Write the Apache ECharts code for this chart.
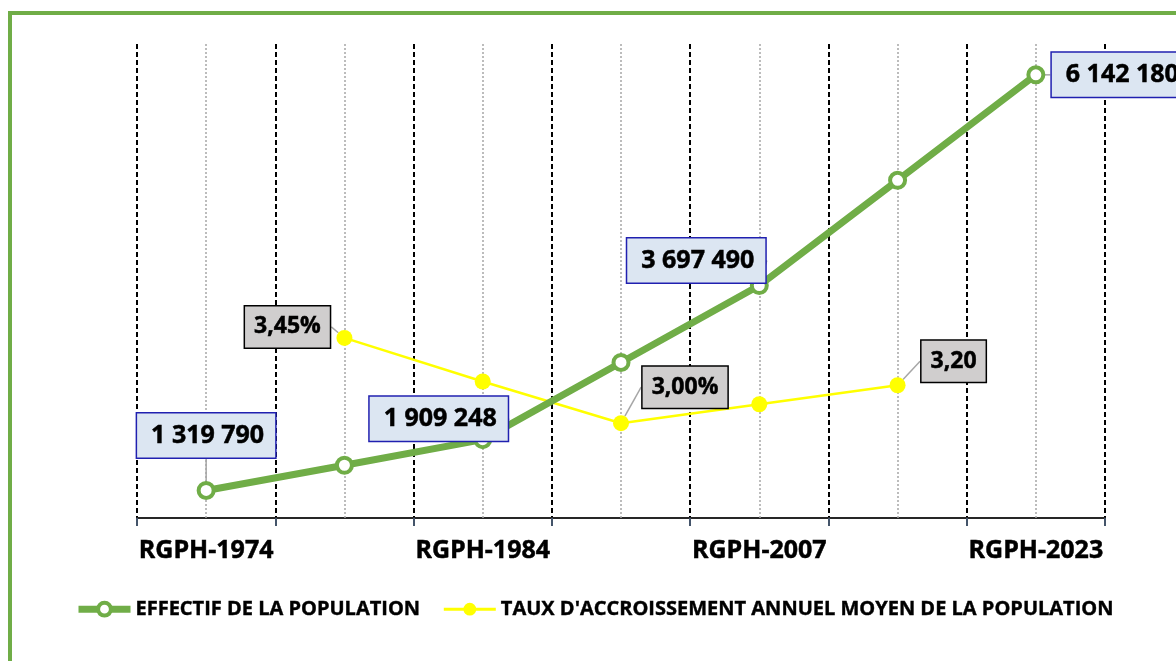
<!DOCTYPE html>
<html>
<head>
<meta charset="utf-8">
<script src="https://cdn.jsdelivr.net/npm/echarts@6/dist/echarts.min.js"></script>
<style>
    html, body { margin: 0; padding: 0; background: #fff; overflow: hidden; }
    #main { width: 1176px; height: 661px; }
    #frame { position: absolute; left: 8px; top: 11px; width: 1400px; height: 900px; border: 4px solid #70ad47; pointer-events: none; }
</style>
</head>
<body>
<div id="main"></div>
<div id="frame"></div>
<script>
// donnees
var categories = ['RGPH-1974', '', 'RGPH-1984', '', 'RGPH-2007', '', 'RGPH-2023'];
var population = [1319790, 1612000, 1909248, 2805000, 3697490, 4918000, 6142180];
var populationLabels = ['1 319 790', '', '1 909 248', '', '3 697 490', '', '6 142 180'];
var growthRate = [null, 3.45, 3.22, 3.00, 3.10, 3.20, null];
var growthLabels = ['', '3,45%', '', '3,00%', '', '3,20', ''];

window.onload = () => {
    var chartDom = document.getElementById('main');
    var myChart = echarts.init(chartDom);
    var font = 'Open Sans';
    var popName = 'EFFECTIF DE LA POPULATION';
    var rateName = "TAUX D'ACCROISSEMENT ANNUEL MOYEN DE LA POPULATION";

    // decalage des etiquettes par rapport aux points
    var popShift = [[0, -55], [0, 0], [-44, -21], [0, 0], [-63, -25], [0, 0], [85, 0]];
    var rateShift = [[0, 0], [-57, -11], [0, 0], [64, -36], [0, 0], [56, -24], [0, 0]];

    var popData = population.map(function (v, i) {
        return { value: v, label: { show: populationLabels[i] !== '' } };
    });
    var rateData = growthRate.map(function (v, i) {
        if (v === null) return null;
        return { value: v, label: { show: growthLabels[i] !== '' } };
    });

    var option = {
        animation: false,
        grid: {
            left: 137,
            right: 71,
            top: 44,
            bottom: 143,
            containLabel: false
        },
        legend: {
            data: [{
                name: popName,
                lineStyle: { width: 7 },
                itemStyle: { borderWidth: 4 }
            }, {
                name: rateName,
                lineStyle: { width: 3 }
            }],
            left: 70,
            top: 594,
            itemWidth: 52,
            itemHeight: 16,
            itemGap: 22,
            textStyle: {
                fontFamily: font,
                fontSize: 20,
                fontWeight: 'bold',
                color: '#000',
                textBorderColor: '#000',
                textBorderWidth: 0.4
            }
        },
        xAxis: {
            type: 'category',
            data: categories,
            boundaryGap: true,
            axisLine: {
                lineStyle: { color: '#262626', width: 2 }
            },
            axisTick: {
                show: true,
                interval: 0,
                length: 8,
                lineStyle: { color: '#44546a', width: 2 }
            },
            axisLabel: {
                interval: 0,
                margin: 20,
                fontFamily: font,
                fontSize: 25,
                fontWeight: 'bold',
                color: '#000',
                textBorderColor: '#000',
                textBorderWidth: 0.5
            },
            splitLine: {
                show: true,
                interval: 0,
                lineStyle: { color: '#000', type: [5, 3], width: 2 }
            }
        },
        yAxis: [{
            type: 'value',
            min: 1000000,
            max: 6500000,
            show: false
        }, {
            type: 'value',
            min: 2.5,
            max: 5,
            show: false
        }],
        series: [{
                name: 'guides',
                type: 'line',
                data: [],
                silent: true,
                z: 1,
                markLine: {
                    silent: true,
                    z: 1,
                    symbol: ['none', 'none'],
                    label: { show: false },
                    lineStyle: { color: '#a6a6a6', type: [2, 2], width: 1.5 },
                    data: categories.map(function (c, i) { return { xAxis: i }; })
                }
            },
            {
                name: popName,
                type: 'line',
                yAxisIndex: 0,
                z: 4,
                data: popData,
                symbol: 'circle',
                symbolSize: 15,
                showAllSymbol: true,
                lineStyle: { color: '#70ad47', width: 7 },
                itemStyle: { color: '#fff', borderColor: '#70ad47', borderWidth: 4 },
                label: {
                    show: true,
                    position: 'inside',
                    formatter: function (p) { return populationLabels[p.dataIndex]; },
                    fontFamily: font,
                    fontSize: 25,
                    fontWeight: 'bold',
                    lineHeight: 26,
                    color: '#000',
                    textBorderColor: '#000',
                    textBorderWidth: 0.5,
                    backgroundColor: '#dce6f2',
                    borderColor: '#2020b0',
                    borderWidth: 1.5,
                    padding: [9, 11, 9, 14]
                },
                labelLine: {
                    show: true,
                    lineStyle: { color: '#a6a6a6', width: 1.5 }
                },
                labelLayout: function (p) {
                    var s = popShift[p.dataIndex];
                    return { dx: s[0], dy: s[1] };
                }
            },
            {
                name: rateName,
                type: 'line',
                yAxisIndex: 1,
                z: 3,
                data: rateData,
                symbol: 'circle',
                symbolSize: 16,
                showAllSymbol: true,
                lineStyle: { color: '#ffff00', width: 2.5 },
                itemStyle: { color: '#ffff00' },
                label: {
                    show: true,
                    position: 'inside',
                    formatter: function (p) { return growthLabels[p.dataIndex]; },
                    fontFamily: font,
                    fontSize: 23,
                    fontWeight: 'bold',
                    lineHeight: 23,
                    color: '#000',
                    textBorderColor: '#000',
                    textBorderWidth: 0.5,
                    backgroundColor: '#d0cece',
                    borderColor: '#000',
                    borderWidth: 1.5,
                    padding: [9, 9, 9, 9]
                },
                labelLine: {
                    show: true,
                    lineStyle: { color: '#a6a6a6', width: 1.5 }
                },
                labelLayout: function (p) {
                    var s = rateShift[p.dataIndex];
                    return { dx: s[0], dy: s[1] };
                }
            }
        ]
    };
    option && myChart.setOption(option);
}
</script>
</body>
</html>
